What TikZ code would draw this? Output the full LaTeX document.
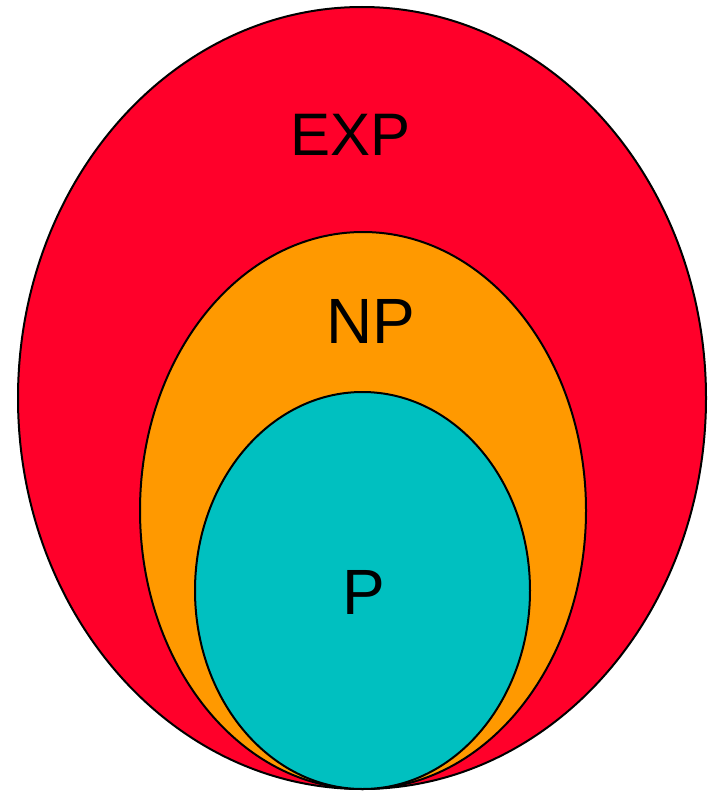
\documentclass[tikz,border=0pt]{standalone}
\usepackage{fontspec}
\setmainfont{Liberation Sans}
\definecolor{expred}{RGB}{255,0,42}
\definecolor{nporange}{RGB}{255,153,0}
\definecolor{pteal}{RGB}{0,192,192}
\begin{document}
\begin{tikzpicture}[x=1pt,y=-1pt,
  setshape/.style={draw=black,line width=2pt},
  setlabel/.style={anchor=base,inner sep=0pt,text=black}]
\useasboundingbox (0,0) rectangle (717,792);
\fill[white] (0,0) rectangle (717,792);
\draw[setshape,fill=expred] (362,398) ellipse [x radius=344pt, y radius=391pt];
\draw[setshape,fill=nporange] (363,510.5) ellipse [x radius=223pt, y radius=278.5pt];
\draw[setshape,fill=pteal] (362.5,590.5) ellipse [x radius=167.5pt, y radius=198.5pt];
\node[setlabel,font=\fontsize{60}{60}\selectfont] (exp) at (350.5,155) {EXP};
\node[setlabel,font=\fontsize{64}{64}\selectfont] (np) at (370.5,343) {NP};
\node[setlabel,font=\fontsize{64}{64}\selectfont] (p) at (363.5,614) {P};
\end{tikzpicture}
\end{document}
